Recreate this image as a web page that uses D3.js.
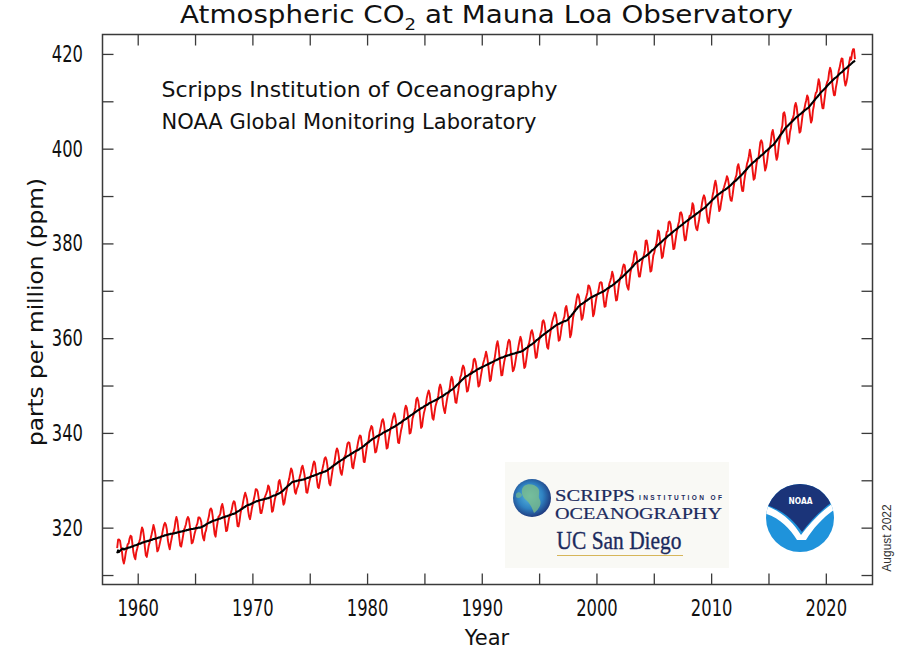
<!DOCTYPE html>
<html><head><meta charset="utf-8">
<script src="https://cdn.jsdelivr.net/npm/d3@7"></script>
<style>html,body{margin:0;padding:0;background:#fff;} svg{display:block;}</style>
</head><body><svg id="chart" width="916" height="659"></svg>
<script>
// ---------------- DATA ----------------
const startYear = 1958, startMonth = 3; // first monthly value: March 1958
// Monthly mean CO2 (ppm), red curve
const co2Monthly = [
// 1958 (Mar-Dec)
315.70,317.45,317.51,317.24,315.86,314.93,313.20,312.43,313.33,314.67,
// 1959
315.58,316.48,316.65,317.72,318.29,318.15,316.54,314.80,313.84,313.33,314.81,315.58,
// 1960
316.43,316.98,317.58,319.03,320.04,319.59,318.18,315.90,314.17,313.83,315.00,316.19,
// 1961
316.89,317.70,318.54,319.48,320.58,319.77,318.57,316.79,314.99,315.31,316.10,317.01,
// 1962
317.94,318.55,319.68,320.57,321.02,320.62,319.61,317.40,316.25,315.42,316.69,317.70,
// 1963
318.74,319.07,319.86,321.38,322.25,321.48,319.74,317.77,316.21,315.99,317.12,318.31,
// 1964
319.57,320.07,320.73,321.77,322.25,321.89,320.44,318.69,316.70,316.87,317.68,318.71,
// 1965
319.44,320.44,320.89,322.14,322.17,321.87,321.21,318.87,317.81,317.30,318.87,319.42,
// 1966
320.62,321.59,322.39,323.70,324.07,323.75,322.40,320.37,318.64,318.10,319.79,321.03,
// 1967
322.33,322.50,323.04,324.42,325.00,324.09,322.55,320.92,319.26,319.39,320.72,321.96,
// 1968
322.57,323.15,323.89,325.02,325.57,325.36,324.14,322.11,320.33,320.25,321.32,322.90,
// 1969
323.98,324.42,325.64,326.66,327.38,326.70,325.89,323.67,322.38,321.78,322.85,324.11,
// 1970
325.06,325.98,326.93,328.13,328.08,327.67,326.34,324.69,323.10,323.06,324.01,325.13,
// 1971
326.17,326.68,327.18,327.78,328.92,328.57,327.37,325.43,323.36,323.56,324.80,326.01,
// 1972
326.77,327.63,327.75,329.72,330.07,329.09,328.05,326.32,324.84,325.20,326.50,327.55,
// 1973
328.54,329.56,330.30,331.50,332.48,332.07,330.87,329.31,327.51,327.18,328.16,328.64,
// 1974
329.35,330.71,331.48,332.65,333.09,332.25,331.18,329.40,327.43,327.37,328.46,329.57,
// 1975
330.40,331.40,332.04,333.31,333.96,333.59,331.91,330.06,328.56,328.34,329.49,330.76,
// 1976
331.75,332.56,333.50,334.58,334.87,334.34,333.05,330.94,329.30,328.94,330.31,331.68,
// 1977
332.93,333.42,334.70,336.07,336.74,336.27,334.93,332.75,331.59,331.16,332.40,333.85,
// 1978
334.97,335.39,336.64,337.76,338.01,337.89,336.54,334.68,332.76,332.54,333.92,334.95,
// 1979
336.23,336.76,337.96,338.89,339.47,339.29,337.73,336.09,333.91,333.86,335.29,336.73,
// 1980
338.01,338.36,340.08,340.77,341.46,341.17,339.56,337.60,335.88,336.01,337.10,338.21,
// 1981
339.23,340.47,341.38,342.51,342.91,342.25,340.49,338.43,336.69,336.85,338.36,339.61,
// 1982
340.75,341.61,342.70,343.56,344.13,343.35,342.06,339.82,337.97,337.86,339.26,340.49,
// 1983
341.37,342.52,343.10,344.94,345.75,345.32,343.99,342.39,339.86,339.99,341.16,342.99,
// 1984
343.70,344.51,345.28,347.06,347.43,346.80,345.39,343.28,341.07,341.35,342.98,344.22,
// 1985
344.97,346.00,347.43,348.35,348.93,348.25,346.56,344.69,343.09,342.80,344.24,345.56,
// 1986
346.29,346.96,347.86,349.55,350.21,349.54,347.94,345.91,344.86,344.17,345.66,346.90,
// 1987
348.02,348.47,349.42,350.99,351.84,351.25,349.52,348.10,346.44,346.36,347.81,348.96,
// 1988
350.43,351.72,352.22,353.59,354.22,353.79,352.39,350.44,348.72,348.88,350.07,351.34,
// 1989
352.76,353.07,353.68,355.42,355.67,355.12,353.90,351.67,349.80,349.99,351.30,352.53,
// 1990
353.66,354.70,355.39,356.20,357.16,356.22,354.82,352.91,350.96,351.18,352.83,354.21,
// 1991
354.72,355.75,357.16,358.60,359.34,358.24,356.17,354.03,352.16,352.21,353.75,354.99,
// 1992
355.98,356.72,357.81,359.15,359.66,359.25,357.02,355.00,353.01,353.31,354.16,355.40,
// 1993
356.70,357.17,358.38,359.46,360.28,359.60,357.57,355.52,353.70,353.98,355.33,356.80,
// 1994
358.36,358.91,359.97,361.26,361.68,360.95,359.55,357.49,355.84,355.99,357.58,359.04,
// 1995
359.97,361.00,361.64,363.45,363.79,363.26,361.90,359.46,358.06,357.75,359.56,360.70,
// 1996
362.05,363.25,364.03,364.72,365.41,364.97,363.65,361.49,359.46,359.60,360.76,362.33,
// 1997
363.18,364.00,364.57,366.35,366.79,365.62,364.47,362.51,360.19,360.77,362.43,364.28,
// 1998
365.32,366.15,367.31,368.61,369.29,368.87,367.64,365.77,363.90,364.23,365.46,366.97,
// 1999
368.15,368.87,369.59,371.14,371.00,370.35,369.27,366.93,364.64,365.13,366.68,368.00,
// 2000
369.14,369.46,370.52,371.66,371.82,371.70,370.12,368.12,366.62,366.73,368.29,369.53,
// 2001
370.28,371.50,372.12,372.87,374.02,373.30,371.62,369.55,367.96,368.09,369.68,371.24,
// 2002
372.44,373.08,373.52,374.85,375.55,375.40,374.02,371.49,370.71,370.24,372.08,373.78,
// 2003
374.68,375.62,376.11,377.65,378.35,378.13,376.62,374.50,372.99,373.01,374.35,375.70,
// 2004
376.79,377.37,378.41,380.52,380.63,379.57,377.79,375.86,374.06,374.24,375.86,377.48,
// 2005
378.03,379.10,379.81,381.02,382.73,382.43,380.71,378.78,376.92,377.22,378.81,379.87,
// 2006
381.21,382.39,382.56,384.42,384.65,384.15,382.48,380.71,378.79,378.95,380.38,381.75,
// 2007
382.91,383.96,384.70,386.41,386.58,386.05,384.49,382.03,380.63,380.76,382.31,383.69,
// 2008
385.07,385.84,385.83,386.77,388.51,388.05,386.25,384.08,383.09,382.78,384.01,385.11,
// 2009
386.65,387.12,388.52,389.57,390.16,389.62,388.07,386.08,384.65,384.33,386.05,387.49,
// 2010
388.55,390.07,391.01,392.38,393.22,392.24,390.33,388.52,386.84,387.24,388.67,389.79,
// 2011
391.33,391.86,392.60,393.25,394.19,393.73,392.51,390.13,389.08,389.00,390.28,391.86,
// 2012
393.12,393.86,394.40,396.18,396.74,395.71,394.36,392.39,391.11,391.05,392.98,394.34,
// 2013
395.55,396.80,397.43,398.41,399.78,398.61,397.32,395.20,393.45,393.70,395.16,396.84,
// 2014
397.85,398.01,399.77,401.38,401.78,401.25,399.10,397.03,395.38,396.03,397.28,398.91,
// 2015
399.98,400.28,401.54,403.28,403.96,402.80,401.31,398.93,397.63,398.29,400.16,401.85,
// 2016
402.52,404.04,404.83,407.42,407.70,406.81,404.39,402.25,401.03,401.57,403.53,404.42,
// 2017
406.13,406.42,407.18,409.00,409.65,408.84,407.07,405.07,403.38,403.64,405.14,406.81,
// 2018
407.96,408.32,409.41,410.24,411.24,410.79,408.71,406.99,405.51,406.00,408.02,409.07,
// 2019
410.83,411.75,411.97,413.32,414.66,413.92,411.77,409.95,408.54,408.53,410.27,411.76,
// 2020
413.40,414.11,414.51,416.21,417.07,416.38,414.38,412.55,411.29,411.28,412.89,413.89,
// 2021
415.15,416.47,417.16,418.24,419.05,418.97,416.70,414.47,413.30,413.93,415.01,416.71,
// 2022 (Jan-Jul)
418.19,419.28,418.81,420.23,420.99,420.99,418.90
];
// Seasonally corrected trend (ppm), black curve
const co2Trend = [
314.6,315.2,314.9,315.1,315.3,315.5,315.6,315.4,315.5,315.6,
315.6,315.7,315.8,315.8,315.9,316.0,316.0,316.1,316.2,316.3,316.3,316.4,
316.5,316.6,316.6,316.7,316.8,316.9,316.9,317.0,317.1,317.1,317.2,317.2,
317.3,317.4,317.4,317.5,317.6,317.6,317.7,317.7,317.8,317.9,317.9,318.0,
318.1,318.2,318.2,318.3,318.4,318.4,318.5,318.5,318.6,318.6,318.7,318.7,
318.7,318.8,318.8,318.9,318.9,319.0,319.0,319.1,319.1,319.2,319.2,319.3,
319.3,319.4,319.4,319.5,319.5,319.6,319.6,319.7,319.7,319.7,319.8,319.8,
319.9,319.9,319.9,320.0,320.0,320.0,320.1,320.2,320.3,320.4,320.5,320.7,
320.8,320.9,321.0,321.1,321.2,321.3,321.4,321.5,321.5,321.6,321.7,321.7,
321.8,321.9,321.9,322.0,322.1,322.2,322.2,322.3,322.4,322.4,322.5,322.6,
322.7,322.7,322.8,322.9,322.9,323.0,323.1,323.3,323.4,323.5,323.6,323.8,
323.9,324.0,324.2,324.3,324.4,324.6,324.7,324.8,324.8,324.9,325.0,325.1,
325.2,325.3,325.4,325.5,325.6,325.6,325.7,325.8,325.8,325.9,325.9,326.0,
326.0,326.1,326.1,326.2,326.2,326.3,326.4,326.5,326.6,326.7,326.8,326.8,
326.9,327.0,327.1,327.2,327.3,327.4,327.6,327.7,327.9,328.1,328.3,328.5,
328.7,328.9,329.0,329.2,329.4,329.6,329.7,329.7,329.8,329.8,329.9,329.9,
330.0,330.0,330.0,330.1,330.1,330.2,330.2,330.3,330.4,330.5,330.5,330.6,
330.7,330.8,330.9,330.9,331.0,331.1,331.2,331.2,331.3,331.4,331.5,331.5,
331.6,331.7,331.8,331.8,331.9,332.0,332.1,332.3,332.4,332.6,332.7,332.9,
333.0,333.2,333.3,333.5,333.6,333.8,333.9,334.0,334.2,334.3,334.4,334.6,
334.7,334.8,335.0,335.1,335.2,335.3,335.5,335.6,335.7,335.8,336.0,336.1,
336.2,336.3,336.4,336.5,336.7,336.8,336.9,337.1,337.2,337.4,337.6,337.7,
337.9,338.0,338.2,338.4,338.5,338.7,338.8,338.9,339.0,339.2,339.3,339.4,
339.5,339.6,339.7,339.8,340.0,340.1,340.2,340.3,340.4,340.5,340.6,340.7,
340.9,341.0,341.1,341.2,341.3,341.4,341.6,341.7,341.8,342.0,342.1,342.2,
342.4,342.5,342.7,342.8,342.9,343.1,343.2,343.4,343.5,343.7,343.8,343.9,
344.1,344.2,344.4,344.5,344.7,344.8,344.9,345.1,345.2,345.3,345.4,345.6,
345.7,345.8,345.9,346.0,346.2,346.3,346.4,346.5,346.6,346.7,346.8,346.9,
347.0,347.1,347.2,347.4,347.5,347.6,347.7,347.8,348.0,348.1,348.3,348.4,
348.5,348.7,348.8,349.0,349.1,349.2,349.4,349.6,349.8,350.0,350.2,350.4,
350.6,350.8,351.0,351.2,351.4,351.6,351.8,351.9,352.0,352.1,352.3,352.4,
352.5,352.6,352.8,352.9,353.0,353.1,353.3,353.4,353.5,353.6,353.7,353.8,
353.9,354.0,354.1,354.2,354.3,354.4,354.5,354.6,354.7,354.8,354.9,355.0,
355.1,355.2,355.3,355.4,355.5,355.6,355.7,355.8,355.9,355.9,356.0,356.1,
356.2,356.2,356.3,356.4,356.4,356.5,356.6,356.6,356.7,356.7,356.8,356.9,
356.9,357.0,357.0,357.1,357.1,357.2,357.3,357.4,357.6,357.7,357.9,358.0,
358.2,358.3,358.5,358.6,358.7,358.9,359.0,359.2,359.4,359.6,359.7,359.9,
360.1,360.2,360.4,360.6,360.7,360.9,361.0,361.2,361.3,361.5,361.6,361.8,
361.9,362.1,362.2,362.4,362.5,362.7,362.8,362.9,363.0,363.1,363.2,363.3,
363.4,363.5,363.6,363.6,363.7,363.8,364.0,364.3,364.5,364.7,365.0,365.2,
365.5,365.7,366.0,366.2,366.5,366.7,366.9,367.1,367.2,367.3,367.5,367.6,
367.8,367.9,368.0,368.2,368.3,368.5,368.6,368.7,368.8,368.9,369.0,369.1,
369.2,369.3,369.4,369.5,369.6,369.7,369.8,369.9,370.0,370.2,370.3,370.5,
370.6,370.7,370.9,371.0,371.1,371.3,371.4,371.6,371.8,371.9,372.1,372.3,
372.5,372.7,372.8,373.0,373.2,373.4,373.6,373.8,374.0,374.2,374.4,374.6,
374.8,375.0,375.2,375.5,375.7,375.9,376.1,376.2,376.3,376.5,376.6,376.8,
376.9,377.1,377.2,377.3,377.5,377.6,377.8,378.0,378.2,378.4,378.6,378.7,
378.9,379.1,379.3,379.5,379.7,379.9,380.1,380.2,380.4,380.6,380.8,381.0,
381.1,381.3,381.5,381.7,381.8,382.0,382.2,382.3,382.5,382.7,382.8,383.0,
383.1,383.3,383.5,383.6,383.8,383.9,384.1,384.3,384.4,384.6,384.7,384.9,
385.0,385.2,385.3,385.5,385.6,385.8,385.9,386.1,386.2,386.4,386.5,386.7,
386.8,387.0,387.1,387.3,387.4,387.6,387.7,388.0,388.2,388.4,388.6,388.8,
389.0,389.2,389.4,389.6,389.8,390.0,390.2,390.3,390.5,390.6,390.8,390.9,
391.1,391.2,391.3,391.5,391.6,391.8,391.9,392.1,392.3,392.5,392.7,392.9,
393.1,393.2,393.4,393.6,393.8,394.0,394.2,394.4,394.6,394.8,395.1,395.3,
395.5,395.7,396.0,396.2,396.4,396.6,396.8,397.0,397.2,397.3,397.5,397.7,
397.9,398.0,398.2,398.4,398.6,398.7,398.9,399.1,399.3,399.5,399.6,399.8,
400.0,400.2,400.4,400.6,400.7,400.9,401.2,401.4,401.7,402.0,402.3,402.6,
402.9,403.1,403.4,403.7,404.0,404.3,404.5,404.7,404.9,405.1,405.3,405.5,
405.7,405.9,406.1,406.3,406.5,406.7,406.8,407.0,407.2,407.3,407.5,407.7,
407.8,408.0,408.2,408.3,408.5,408.6,408.8,409.1,409.3,409.6,409.8,410.1,
410.3,410.6,410.8,411.0,411.3,411.5,411.8,412.0,412.2,412.4,412.6,412.8,
413.0,413.3,413.5,413.7,413.9,414.1,414.3,414.5,414.7,414.9,415.0,415.2,
415.4,415.6,415.8,416.0,416.1,416.3,416.5,416.7,416.9,417.0,417.2,417.4,
417.6,417.7,417.9,418.1,418.3,418.4,418.6
];
const xMajorTicks = [1960,1970,1980,1990,2000,2010,2020];
const xMinorTicks = [1965,1975,1985,1995,2005,2015];
const yMajorTicks = [320,340,360,380,400,420];
const yMinorTicks = [310,330,350,370,390,410];
const titleMain = "Atmospheric CO", titleSub = "2", titleRest = " at Mauna Loa Observatory";
const creditLines = ["Scripps Institution of Oceanography", "NOAA Global Monitoring Laboratory"];
const xLabel = "Year", yLabel = "parts per million (ppm)", dateStamp = "August 2022";

// ---------------- CHART ----------------
const svg = d3.select("#chart");
const FONT = "'DejaVu Sans', sans-serif";
const frame = {left:102.5, right:872.5, top:34.5, bottom:584.5};
const x = d3.scaleLinear().domain([1956.93, 2024.07]).range([frame.left, frame.right]);
const y = d3.scaleLinear().domain([308.0, 424.1]).range([frame.bottom, frame.top]);

svg.append("rect").attr("width",916).attr("height",659).attr("fill","#fff");

// logos (drawn under the data)
const logo = svg.append("g").attr("class","logos");
logo.append("rect").attr("x",505).attr("y",462).attr("width",224).attr("height",106).attr("fill","#f9f9f5");
const defs = svg.append("defs");
const rg = defs.append("radialGradient").attr("id","globe").attr("cx","45%").attr("cy","45%").attr("r","60%");
rg.append("stop").attr("offset","0%").attr("stop-color","#5bbbe0");
rg.append("stop").attr("offset","55%").attr("stop-color","#2f82c2");
rg.append("stop").attr("offset","100%").attr("stop-color","#1c2f74");
logo.append("circle").attr("cx",532).attr("cy",498).attr("r",19).attr("fill","url(#globe)");
logo.append("path").attr("d","M524,486 C528,483 535,484 538,488 C541,492 537,496 540,500 C542,505 538,510 534,513 C532,508 530,503 526,500 C522,497 520,490 524,486 Z")
  .attr("fill","#7fbf86").attr("opacity",0.75);
logo.append("path").attr("d","M516,494 C518,491 521,492 522,495 C521,498 518,499 516,497 Z").attr("fill","#7fbf86").attr("opacity",0.6);
const navy = "#1c2b5e";
logo.append("text").attr("x",555).attr("y",500.5).attr("font-family","'Liberation Serif', serif").attr("font-size",16.5)
  .attr("fill",navy).attr("stroke",navy).attr("stroke-width",0.2).attr("textLength",80).attr("lengthAdjust","spacingAndGlyphs").text("SCRIPPS");
logo.append("text").attr("x",639).attr("y",499.5).attr("font-family","'Liberation Sans', sans-serif").attr("font-weight","bold").attr("font-size",6.5)
  .attr("fill",navy).attr("textLength",83).attr("lengthAdjust","spacing").text("INSTITUTION OF");
logo.append("text").attr("x",555).attr("y",519).attr("font-family","'Liberation Serif', serif").attr("font-size",16.5)
  .attr("fill",navy).attr("stroke",navy).attr("stroke-width",0.2).attr("textLength",167).attr("lengthAdjust","spacingAndGlyphs").text("OCEANOGRAPHY");
logo.append("text").attr("x",556.5).attr("y",548.5).attr("font-family","'Liberation Serif', serif").attr("font-size",25)
  .attr("fill",navy).attr("stroke",navy).attr("stroke-width",0.35).attr("textLength",125).attr("lengthAdjust","spacingAndGlyphs").text("UC San Diego");
logo.append("line").attr("x1",557).attr("x2",683).attr("y1",555.5).attr("y2",555.5).attr("stroke","#d6b65a").attr("stroke-width",1.2);

// NOAA emblem
const nc = {x:800, y:518, r:34};
defs.append("clipPath").attr("id","noaaClip").append("circle").attr("cx",nc.x).attr("cy",nc.y).attr("r",nc.r);
logo.append("circle").attr("cx",nc.x).attr("cy",nc.y).attr("r",nc.r).attr("fill","#1f93db");
const ng = logo.append("g").attr("clip-path","url(#noaaClip)");
ng.append("path").attr("d","M760,504 C780,509 793,522 801,535 C811,522 822,510 840,498 L840,506 C826,514 814,527 806,540 L797,540 C789,527 778,516 760,512 Z").attr("fill","#fff");
ng.append("path").attr("d","M760,503 L760,470 L840,470 L840,497 C822,508 811,520 802,532 C793,519 780,508 760,503 Z").attr("fill","#1b3479");
logo.append("text").attr("x",800.5).attr("y",504).attr("text-anchor","middle").attr("font-family","'DejaVu Sans', sans-serif")
  .attr("font-weight","bold").attr("font-size",9.5).attr("fill","#fff").attr("textLength",24).attr("lengthAdjust","spacingAndGlyphs").text("NOAA");

// data lines
const tOf = i => startYear + (startMonth - 1 + i + 0.5) / 12;
const line = d3.line().x((d,i) => x(tOf(i))).y(d => y(d));
svg.append("path").datum(co2Monthly).attr("d", line).attr("fill","none").attr("stroke","#ee1111").attr("stroke-width",1.9).attr("stroke-linejoin","round");
svg.append("path").datum(co2Trend).attr("d", line).attr("fill","none").attr("stroke","#000").attr("stroke-width",2.1).attr("stroke-linejoin","round");

// axes (ticks on all four sides, pointing inward)
const tickLen = 11, axisColor = "#3a3a3a";
const xTicksAll = xMajorTicks.concat(xMinorTicks).sort((a,b)=>a-b);
const yTicksAll = yMajorTicks.concat(yMinorTicks).sort((a,b)=>a-b);
const xFmt = d => xMajorTicks.includes(d) ? String(d) : "";
const yFmt = d => yMajorTicks.includes(d) ? String(d) : "";
function styleAxis(g){
  g.select(".domain").remove();
  g.selectAll("line").attr("stroke",axisColor).attr("stroke-width",1.3);
  g.selectAll("text").attr("fill","#111").attr("font-family",FONT).attr("font-size",23)
    .each(function(){ const t = d3.select(this).text(); if (t) d3.select(this).attr("textLength", t.length*10.4).attr("lengthAdjust","spacingAndGlyphs"); });
}
svg.append("g").attr("transform",`translate(0,${frame.bottom})`)
  .call(d3.axisBottom(x).tickValues(xTicksAll).tickSize(-tickLen).tickPadding(15.5).tickFormat(xFmt)).call(styleAxis);
svg.append("g").attr("transform",`translate(0,${frame.top})`)
  .call(d3.axisTop(x).tickValues(xTicksAll).tickSize(-tickLen).tickFormat(() => "")).call(styleAxis);
svg.append("g").attr("transform",`translate(${frame.left},0)`)
  .call(d3.axisLeft(y).tickValues(yTicksAll).tickSize(-tickLen).tickPadding(19.5).tickFormat(yFmt)).call(styleAxis);
svg.append("g").attr("transform",`translate(${frame.right},0)`)
  .call(d3.axisRight(y).tickValues(yTicksAll).tickSize(-tickLen).tickFormat(() => "")).call(styleAxis);
svg.append("rect").attr("x",frame.left).attr("y",frame.top).attr("width",frame.right-frame.left).attr("height",frame.bottom-frame.top)
  .attr("fill","none").attr("stroke",axisColor).attr("stroke-width",1.5);

// texts
const title = svg.append("text").attr("x",486.5).attr("y",23).attr("text-anchor","middle").attr("font-family",FONT)
  .attr("font-size",24.5).attr("fill","#111").attr("textLength",613).attr("lengthAdjust","spacingAndGlyphs");
title.append("tspan").text(titleMain);
title.append("tspan").attr("font-size",16).attr("dy",7).text(titleSub);
title.append("tspan").attr("dy",-7).text(titleRest);

const creditLen = [396, 375], creditY = [96.5, 128.5];
creditLines.forEach((t,i) => svg.append("text").attr("x",161.5).attr("y",creditY[i]).attr("font-family",FONT).attr("font-size",21)
  .attr("fill","#111").attr("textLength",creditLen[i]).attr("lengthAdjust","spacingAndGlyphs").text(t));

svg.append("text").attr("x",487).attr("y",645).attr("text-anchor","middle").attr("font-family",FONT).attr("font-size",21).attr("fill","#111").text(xLabel);
svg.append("text").attr("transform","translate(43,312) rotate(-90)").attr("text-anchor","middle").attr("font-family",FONT).attr("font-size",21)
  .attr("fill","#111").attr("textLength",268).attr("lengthAdjust","spacingAndGlyphs").text(yLabel);
svg.append("text").attr("transform","translate(891,538) rotate(-90)").attr("text-anchor","middle").attr("font-family","'Liberation Sans', sans-serif")
  .attr("font-size",12).attr("fill","#333").text(dateStamp);
</script>
</body></html>
